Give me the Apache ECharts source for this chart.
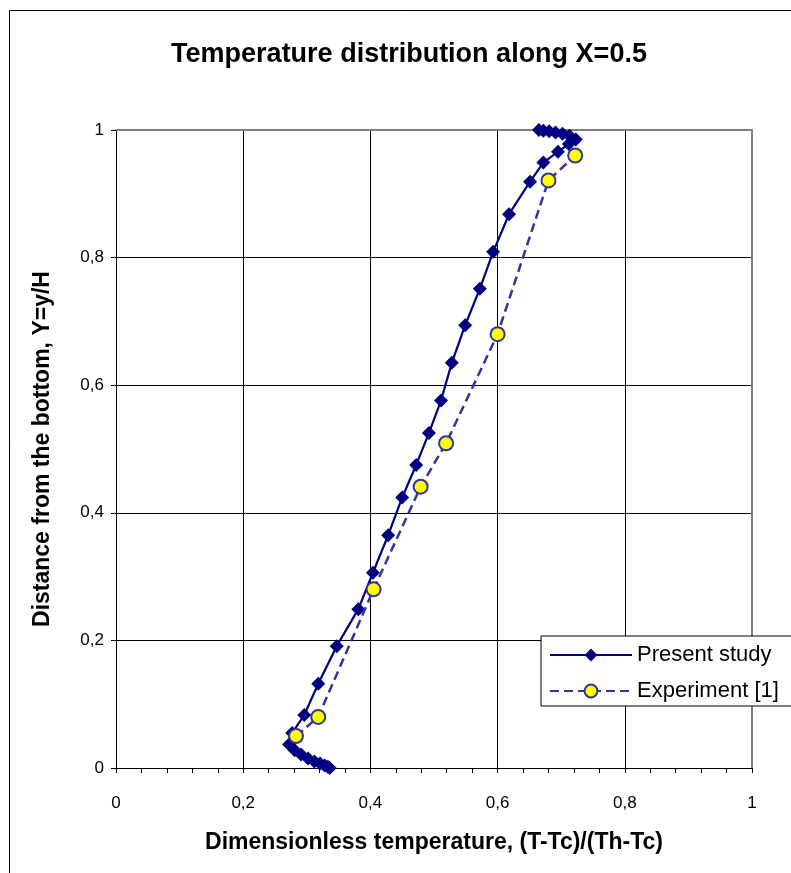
<!DOCTYPE html>
<html><head><meta charset="utf-8">
<script src="https://cdn.jsdelivr.net/npm/echarts@6/dist/echarts.min.js"></script>
<style>html,body{margin:0;padding:0;background:#fff}#c{width:791px;height:873px}</style>
</head><body><div id="c"></div><script>
const presentX = [0.336,0.333,0.328,0.321,0.312,0.302,0.291,0.281,0.272,0.277,0.296,0.318,0.347,0.381,0.404,0.428,0.450,0.472,0.492,0.511,0.528,0.549,0.572,0.593,0.618,0.651,0.672,0.695,0.712,0.723,0.713,0.702,0.691,0.681,0.672,0.665];
const presentY = [0.000,0.002,0.004,0.007,0.010,0.015,0.021,0.028,0.037,0.055,0.083,0.132,0.191,0.249,0.306,0.365,0.424,0.475,0.525,0.576,0.635,0.694,0.751,0.809,0.868,0.919,0.949,0.966,0.978,0.985,0.991,0.994,0.996,0.998,0.999,1.000];
const expX = [0.283,0.318,0.405,0.479,0.519,0.600,0.680,0.722];
const expY = [0.050,0.080,0.280,0.441,0.509,0.680,0.921,0.960];
const tickLabels = ['0','0,2','0,4','0,6','0,8','1'];
const titleText = 'Temperature distribution along X=0.5';
const xName = 'Dimensionless temperature, (T-Tc)/(Th-Tc)';
const yName = 'Distance from the bottom, Y=y/H';

const FONT = "'Liberation Sans', Arial, sans-serif";
const chart = echarts.init(document.getElementById('c'), null, {renderer:'canvas'});
const pairs = (xs, ys) => xs.map((x, i) => [x, ys[i]]);
const fmt = (v) => tickLabels[Math.round(v / 0.2)];

const baseAxis = {
  type: 'value', min: 0, max: 1, interval: 0.2,
  axisLine: {show: true, onZero: false, lineStyle: {color: '#000', width: 1}},
  axisTick: {show: true, inside: false, length: 5, lineStyle: {color: '#000', width: 1}},
  splitLine: {show: true, lineStyle: {color: '#000', width: 1}},
  axisLabel: {color: '#000', fontSize: 17, fontFamily: FONT, formatter: fmt},
  nameTextStyle: {color: '#000', fontSize: 23, fontWeight: 'bold', fontFamily: FONT},
  nameLocation: 'middle'
};
const frameAxis = {
  type: 'value', min: 0, max: 1, interval: 0.2,
  axisLine: {show: true, onZero: false, lineStyle: {color: '#808080', width: 2}},
  axisTick: {show: false}, axisLabel: {show: false}, splitLine: {show: false}
};

chart.setOption({
  animation: false,
  backgroundColor: '#fff',
  title: {
    text: titleText, left: 404, top: 36, textAlign: 'center',
    textStyle: {color: '#000', fontSize: 27, fontWeight: 'bold', fontFamily: FONT}
  },
  grid: {left: 116, top: 130, width: 636, height: 638, containLabel: false},
  xAxis: [
    Object.assign({}, baseAxis, {
      position: 'bottom', name: xName, nameGap: 63,
      axisLabel: Object.assign({}, baseAxis.axisLabel, {margin: 27}),
      minorTick: {show: true, splitNumber: 5, length: 5, lineStyle: {color: '#000', width: 1}},
      minorSplitLine: {show: false}
    }),
    Object.assign({}, frameAxis, {position: 'top'})
  ],
  yAxis: [
    Object.assign({}, baseAxis, {
      position: 'left', name: yName, nameGap: 62, nameRotate: 90,
      axisLabel: Object.assign({}, baseAxis.axisLabel, {margin: 12})
    }),
    Object.assign({}, frameAxis, {position: 'right'})
  ],
  legend: {
    show: true, orient: 'vertical', left: 541, top: 636,
    backgroundColor: '#fff', borderColor: '#000', borderWidth: 1,
    padding: [8, 16, 4, 8], itemGap: 14, itemWidth: 82, itemHeight: 16,
    textStyle: {color: '#000', fontSize: 22, fontFamily: FONT},
    data: ['Present study', 'Experiment [1]']
  },
  graphic: [{
    type: 'rect', left: 7, top: 8, silent: true,
    shape: {width: 900, height: 900},
    style: {fill: 'none', stroke: '#000', lineWidth: 1}
  }],
  series: [
    {
      name: 'Present study', type: 'line', xAxisIndex: 0, yAxisIndex: 0,
      data: pairs(presentX, presentY),
      symbol: 'diamond', symbolSize: 14, showAllSymbol: true,
      lineStyle: {color: '#000080', width: 2.2},
      itemStyle: {color: '#000080', borderWidth: 0},
      z: 3
    },
    {
      name: 'Experiment [1]', type: 'line', xAxisIndex: 0, yAxisIndex: 0,
      data: pairs(expX, expY),
      symbol: 'circle', symbolSize: 14, showAllSymbol: true,
      lineStyle: {color: '#333399', width: 2.5, type: [9, 5]},
      itemStyle: {color: '#ffff00', borderColor: '#333399', borderWidth: 2},
      z: 4
    }
  ]
});
</script></body></html>
